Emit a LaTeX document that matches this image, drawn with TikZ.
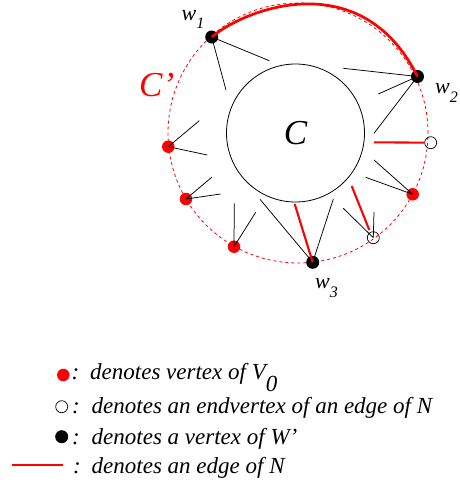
\documentclass[tikz,border=0pt]{standalone}
\usepackage{fontspec}
\setmainfont{Liberation Serif}
\usetikzlibrary{calc,positioning}
\definecolor{NRed}{RGB}{255,0,0}

\begin{document}
\begin{tikzpicture}[x=1pt,y=-1pt,
  vzero/.style={circle,fill=NRed,inner sep=0pt,minimum size=12.5pt},
  wvert/.style={circle,fill=black,inner sep=0pt,minimum size=13pt},
  endv/.style={circle,draw=black,line width=0.7pt,inner sep=0pt,minimum size=12pt},
  spoke/.style={line width=0.75pt},
  nedge/.style={NRed,line width=2.1pt},
  wlbl/.style={font=\fontsize{22}{24}\selectfont\itshape,anchor=base west,inner sep=0pt},
  leg/.style={font=\fontsize{23}{26}\selectfont\itshape,anchor=base west,inner sep=0pt}]
\useasboundingbox (0,0) rectangle (459,483);
% the two cycles
\node[circle,draw=NRed,line width=0.8pt,dash pattern=on 3pt off 3pt,minimum size=260pt,inner sep=0pt] (Cp) at (298,133) {};
\node[circle,draw,line width=0.8pt,minimum size=138pt,inner sep=0pt,font=\fontsize{35}{35}\selectfont\itshape] (C) at (295.5,133) {C};
\node[font=\fontsize{35}{35}\selectfont\itshape,text=NRed,anchor=base west,inner sep=0pt] (Cpl) at (139,96) {C’};
% vertices on C'
\node[wvert] (w1) at (211.7,37) {};\node[wvert] (w2) at (417.5,76.5) {};\node[wvert] (w3) at (312.7,262.3) {};
\node[endv] (o1) at (430.7,142.7) {};\node[endv] (o2) at (373.3,237.7) {};
\node[vzero] (r1) at (412.7,194.3) {};\node[vzero] (r2) at (234,246.7) {};
\node[vzero] (r3) at (186,199) {};\node[vzero] (r4) at (168.3,146.7) {};
\node[wlbl] (w1l) at (181.5,20) {w\raisebox{-8pt}{\fontsize{16}{16}\selectfont 1}};
\node[wlbl] (w2l) at (435,93) {w\raisebox{-9pt}{\fontsize{16}{16}\selectfont 2}};
\node[wlbl] (w3l) at (315,288) {w\raisebox{-9pt}{\fontsize{16}{16}\selectfont 3}};
% free ends towards C
\coordinate (a1) at (269.3,60.7);\coordinate (a2) at (226,90);
\coordinate (b1) at (343.3,68.3);\coordinate (b2) at (378.3,94);\coordinate (b3) at (374,133.3);
\coordinate (c1) at (374,160);\coordinate (c2) at (365.7,177.3);
\coordinate (d1) at (343.3,208.3);\coordinate (d2) at (374,212);
\coordinate (f1) at (260,199.3);\coordinate (f2) at (333.3,199);
\coordinate (g1) at (234.3,203.3);\coordinate (g2) at (255.7,212.3);
\coordinate (h1) at (211.7,177.3);\coordinate (h2) at (220.7,194);
\coordinate (i1) at (199.3,120.7);\coordinate (i2) at (207.3,155);
\coordinate (e1) at (374,142.3);\coordinate (e2) at (351.7,186);\coordinate (e3) at (369.3,230);\coordinate (e4) at (294.7,204);
\draw[spoke] (w1.center)--(a1) (w1.center)--(a2);
\draw[spoke] (w2.center)--(b1) (w2.center)--(b2) (w2.center)--(b3);
\draw[spoke] (r1.center)--(c1) (r1.center)--(c2);
\draw[spoke] (o2.center)--(d1) (o2.center)--(d2);
\draw[spoke] (w3.center)--(f1) (w3.center)--(f2);
\draw[spoke] (r2.center)--(g1) (r2.center)--(g2);
\draw[spoke] (r3.center)--(h1) (r3.center)--(h2);
\draw[spoke] (r4.center)--(i1) (r4.center)--(i2);
% edges of N
\draw[nedge] (o1)--(e1);\draw[nedge] (e2)--(e3);\draw[nedge] (w3.center)--(e4);
\draw[nedge,line width=2.7pt] (w1.center) .. controls (246.4,7.9) and (361.8,-35.3) .. (w2.center);
% legend
\node[vzero] (lv) at (63.3,375) {};\node[endv] (le) at (61.7,406.7) {};\node[wvert] (lw) at (61.7,436.7) {};
\coordinate (ls) at (11.7,465);\coordinate (lt) at (63.3,465);\draw[nedge] (ls)--(lt);
\node[leg] (k1) at (71.5,379) {:};\node[leg] (k2) at (72,413) {:};\node[leg] (k3) at (72,444) {:};\node[leg] (k4) at (73,473) {:};
\node[leg] (t1) at (90,379) {denotes vertex of V\raisebox{-12pt}{0}};
\node[leg] (t2) at (91.5,413) {denotes an endvertex of an edge of N};
\node[leg] (t3) at (91.5,444) {denotes a vertex of W’};
\node[leg] (t4) at (91.5,473) {denotes an edge of N};
\end{tikzpicture}
\end{document}
